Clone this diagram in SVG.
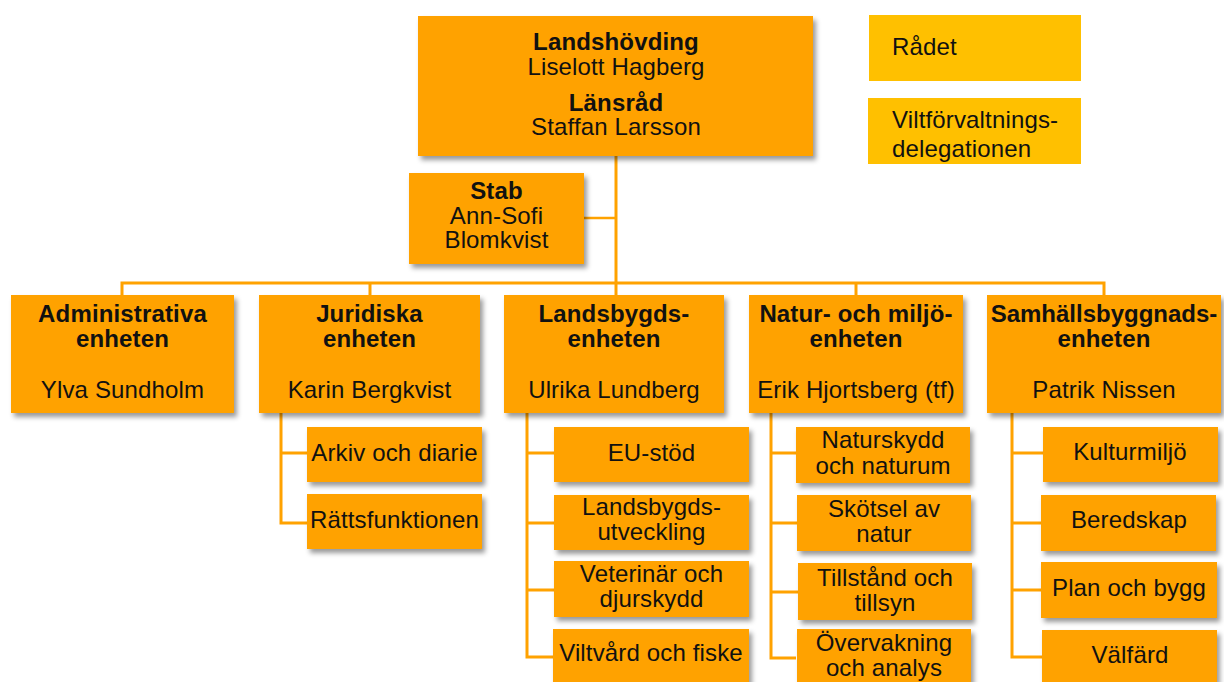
<svg xmlns="http://www.w3.org/2000/svg" width="1224" height="682" viewBox="0 0 1224 682">
  <defs>
    <filter id="sh" x="-10%" y="-10%" width="130%" height="140%">
      <feDropShadow dx="3" dy="4" stdDeviation="2.5" flood-color="#000" flood-opacity="0.4"/>
    </filter>
    <style>
      .box { fill: #FFA200; filter: url(#sh); }
      .ybox { fill: #FFC000; }
      .t { font-family: "Liberation Sans", Arial, sans-serif; font-size: 24px; fill: #111; text-anchor: middle; letter-spacing: 0.15px; }
      .l { text-anchor: start; }
      .b { font-weight: bold; }
      .conn { stroke: #FFA200; stroke-width: 3; fill: none; }
    </style>
  </defs>
  <rect width="1224" height="682" fill="#fff"/>

  <g id="connectors">
    <path class="conn" d="M616 156 V295"/>
    <path class="conn" d="M584 218 H616" style="stroke-width:2.5"/>
    <path class="conn" d="M122 295 V283 H1104 V295"/>
    <path class="conn" d="M370 283 V295"/>
    <path class="conn" d="M856 283 V295"/>
    <path class="conn" d="M281 413 V523 H307 M281 453 H307"/>
    <path class="conn" d="M527 413 V657 H554 M527 453 H554 M527 523 H554 M527 590 H554"/>
    <path class="conn" d="M771 413 V658 H796 M771 453 H796 M771 523 H797 M771 592 H798"/>
    <path class="conn" d="M1012 413 V657 H1042 M1012 453 H1043 M1012 523 H1041 M1012 590 H1041"/>
  </g>

  <g id="landshovding">
    <rect class="box" x="418" y="16" width="395" height="140"/>
    <text class="t b" x="616" y="50">Landshövding</text>
    <text class="t" x="616" y="75">Liselott Hagberg</text>
    <text class="t b" x="616" y="111">Länsråd</text>
    <text class="t" x="616" y="135">Staffan Larsson</text>
  </g>

  <g id="radet">
    <rect class="ybox" x="869" y="15" width="212" height="66"/>
    <text class="t l" x="892" y="55">Rådet</text>
  </g>

  <g id="viltforvaltningsdelegationen">
    <rect class="ybox" x="868" y="98" width="213" height="66"/>
    <text class="t l" x="892" y="128">Viltförvaltnings-</text>
    <text class="t l" x="892" y="157">delegationen</text>
  </g>

  <g id="stab">
    <rect class="box" x="409" y="173" width="175" height="91"/>
    <text class="t b" x="496.5" y="199">Stab</text>
    <text class="t" x="496.5" y="224">Ann-Sofi</text>
    <text class="t" x="496.5" y="248">Blomkvist</text>
  </g>

  <g id="administrativa">
    <rect class="box" x="11" y="295" width="223" height="118"/>
    <text class="t b" x="122.5" y="322">Administrativa</text>
    <text class="t b" x="122.5" y="347">enheten</text>
    <text class="t" x="122.5" y="398">Ylva Sundholm</text>
  </g>

  <g id="juridiska">
    <rect class="box" x="259" y="295" width="221" height="118"/>
    <text class="t b" x="369.5" y="322">Juridiska</text>
    <text class="t b" x="369.5" y="347">enheten</text>
    <text class="t" x="369.5" y="398">Karin Bergkvist</text>
  </g>

  <g id="landsbygds">
    <rect class="box" x="504" y="295" width="220" height="118"/>
    <text class="t b" x="614" y="322">Landsbygds-</text>
    <text class="t b" x="614" y="347">enheten</text>
    <text class="t" x="614" y="398">Ulrika Lundberg</text>
  </g>

  <g id="natur">
    <rect class="box" x="749" y="295" width="214" height="118"/>
    <text class="t b" x="856" y="322">Natur- och miljö-</text>
    <text class="t b" x="856" y="347">enheten</text>
    <text class="t" x="856" y="398">Erik Hjortsberg (tf)</text>
  </g>

  <g id="samhalls">
    <rect class="box" x="987" y="295" width="234" height="118"/>
    <text class="t b" x="1104" y="322" style="letter-spacing:0">Samhällsbyggnads-</text>
    <text class="t b" x="1104" y="347">enheten</text>
    <text class="t" x="1104" y="398">Patrik Nissen</text>
  </g>

  <g id="arkiv">
    <rect class="box" x="307" y="427" width="175" height="55"/>
    <text class="t" x="394.5" y="461">Arkiv och diarie</text>
  </g>
  <g id="ratts">
    <rect class="box" x="307" y="494" width="175" height="55"/>
    <text class="t" x="394.5" y="528">Rättsfunktionen</text>
  </g>

  <g id="eustod">
    <rect class="box" x="554" y="427" width="195" height="55"/>
    <text class="t" x="651.5" y="461">EU-stöd</text>
  </g>
  <g id="landsbygdsutveckling">
    <rect class="box" x="554" y="495" width="195" height="55"/>
    <text class="t" x="651.5" y="515">Landsbygds-</text>
    <text class="t" x="651.5" y="540">utveckling</text>
  </g>
  <g id="veterinar">
    <rect class="box" x="554" y="561" width="195" height="56"/>
    <text class="t" x="651.5" y="582">Veterinär och</text>
    <text class="t" x="651.5" y="607">djurskydd</text>
  </g>
  <g id="viltvard">
    <rect class="box" x="553" y="629" width="196" height="60"/>
    <text class="t" x="651" y="661">Viltvård och fiske</text>
  </g>

  <g id="naturskydd">
    <rect class="box" x="796" y="427" width="174" height="56"/>
    <text class="t" x="883" y="448">Naturskydd</text>
    <text class="t" x="883" y="474">och naturum</text>
  </g>
  <g id="skotsel">
    <rect class="box" x="797" y="495" width="174" height="56"/>
    <text class="t" x="884" y="517">Skötsel av</text>
    <text class="t" x="884" y="542">natur</text>
  </g>
  <g id="tillstand">
    <rect class="box" x="798" y="563" width="174" height="57"/>
    <text class="t" x="885" y="586">Tillstånd och</text>
    <text class="t" x="885" y="611">tillsyn</text>
  </g>
  <g id="overvakning">
    <rect class="box" x="797" y="629" width="174" height="60"/>
    <text class="t" x="884" y="651">Övervakning</text>
    <text class="t" x="884" y="676">och analys</text>
  </g>

  <g id="kulturmiljo">
    <rect class="box" x="1043" y="427" width="175" height="55"/>
    <text class="t" x="1130" y="460">Kulturmiljö</text>
  </g>
  <g id="beredskap">
    <rect class="box" x="1041" y="495" width="175" height="56"/>
    <text class="t" x="1129" y="528">Beredskap</text>
  </g>
  <g id="planbygg">
    <rect class="box" x="1041" y="562" width="176" height="56"/>
    <text class="t" x="1129" y="596">Plan och bygg</text>
  </g>
  <g id="valfard">
    <rect class="box" x="1042" y="630" width="175" height="60"/>
    <text class="t" x="1130" y="663">Välfärd</text>
  </g>
</svg>
